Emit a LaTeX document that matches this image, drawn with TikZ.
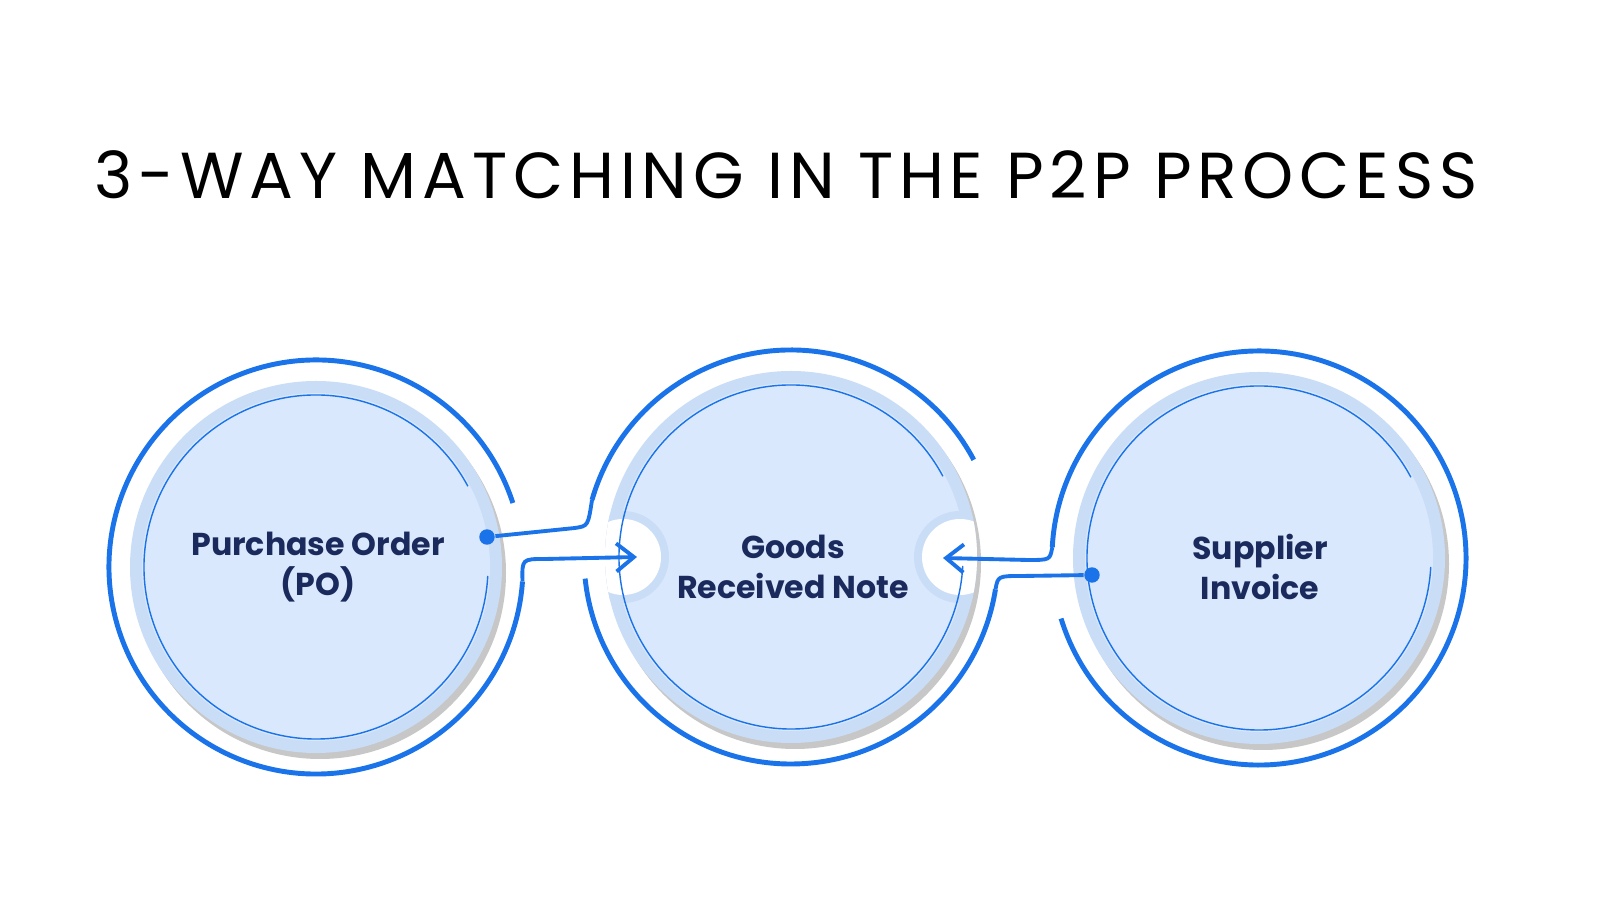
\documentclass[tikz,border=0pt]{standalone}
\usepackage{fontspec}
\usepackage{tikz}
\usetikzlibrary{arrows.meta}
\newfontfamily\titlefont[LetterSpace=9]{Poppins}
\newfontfamily\labelfont{Poppins}
\definecolor{ringblue}{HTML}{1A73E8}
\definecolor{discfill}{HTML}{D9E8FC}
\definecolor{discrim}{HTML}{CADDF7}
\definecolor{navy}{HTML}{1B2A5C}

\begin{document}
\begin{tikzpicture}[x=0.1mm,y=0.1mm,
            ring/.style = {draw=ringblue, line width=1.4pt},
            link/.style = {draw=ringblue, line width=1.1pt},
            label/.style = {font=\labelfont\bfseries\fontsize{9}{11.5}\selectfont,
                        text=navy, align=center},
            dot/.style = {circle, fill=ringblue, inner sep=0pt, minimum size=4.4pt}]
            \useasboundingbox (0,0) rectangle (1600,900);
            \fill[white] (0,0) rectangle (1600,900);
            % Title
            \node[font=\titlefont\fontsize{18.5}{22}\selectfont] (title) at (786,725)
                {3-WAY MATCHING IN THE P2P PROCESS};
            % Centres
            \coordinate (L) at (316,333);
            \coordinate (M) at (791,343);
            \coordinate (R) at (1259,342);
            % Discs with shadow
            \foreach \c in {L,M,R} {
                \fill[black!22] ([shift={(4,-6)}]\c) circle (186);
                \fill[discrim] (\c) circle (186);
                \fill[discfill] (\c) circle (174);
            }
            % Notches in the middle disc
            \begin{scope}
                \clip (M) circle (186);
                \fill[discrim] (623,343) circle (46);
                \fill[white] (623,343) circle (38);
                \fill[discrim] (960,343) circle (46);
                \fill[white] (960,343) circle (38);
            \end{scope}
            % Inner thin lines
            \foreach \c in {L,M,R}
                \draw[ringblue, line width=0.4pt] ([shift={(28:172)}]\c) arc[start angle=28, end angle=357, radius=172];
            % Outer rings
            \draw[ring] ([shift={(18:207)}]L) arc[start angle=18, end angle=356, radius=207];
            \draw[ring] ([shift={(28:207)}]M) arc[start angle=28, end angle=164, radius=207];
            \draw[ring] ([shift={(186:207)}]M) arc[start angle=186, end angle=351, radius=207];
            \draw[ring] ([shift={(-163:207)}]R) arc[start angle=-163, end angle=177, radius=207];
            % Ends of the rings
            \coordinate (Lend) at ([shift={(356:207)}]L);
            \coordinate (Mtop) at ([shift={(164:207)}]M);
            \coordinate (Mbot) at ([shift={(351:207)}]M);
            \coordinate (Rtop) at ([shift={(177:207)}]R);
            % Connectors
            \node[dot] (podot) at (487,363) {};
            \node[dot] (sidot) at (1092,325) {};
            \coordinate (goodsin) at (637,343);
            \coordinate (goodsout) at (943,342);
            \draw[link] (podot) -- (575,372) .. controls (588,374) .. (Mtop);
            \draw[link, -{Straight Barb[length=5pt,width=8pt]}] (Lend) .. controls (522,341) .. (545,341) -- (goodsin);
            \draw[link] (sidot) -- (1022,324) .. controls (998,324) .. (Mbot);
            \draw[link, -{Straight Barb[length=5pt,width=8pt]}] (Rtop) .. controls (1050,340) .. (1028,340) -- (goodsout);
            % Labels
            \node[label] (po) at (318,333) {Purchase Order\\(PO)};
            \node[label] (grn) at (793,333) {Goods\\Received Note};
            \node[label] (inv) at (1260,333) {Supplier\\Invoice};
        \end{tikzpicture}
\end{document}
